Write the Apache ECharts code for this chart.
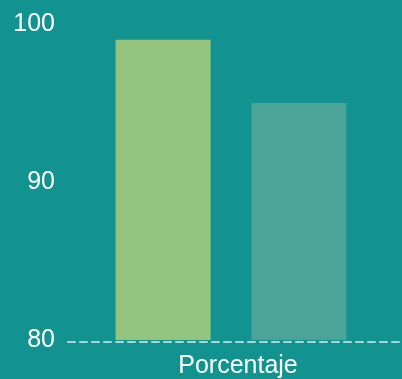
<!DOCTYPE html>
<html><head><meta charset="utf-8">
<script src="https://cdn.jsdelivr.net/npm/echarts@6/dist/echarts.min.js"></script>
<style>html,body{margin:0;padding:0;background:#12938f;}#c{width:402px;height:379px;}</style>
</head><body><div id="c"></div>
<script>
const categories = ['Porcentaje'];
const seriesA = [99];
const seriesB = [95];
const yTicks = [80, 90, 100];

const font = 'Liberation Sans, Arial';
const chart = echarts.init(document.getElementById('c'));
chart.setOption({
  backgroundColor: '#12938f',
  animation: false,
  grid: [
    {left: 68, right: 8, top: 24, bottom: 37},
    {left: 68, right: 0, top: 24, bottom: 37}
  ],
  xAxis: [{
    type: 'category', data: categories, gridIndex: 0,
    axisLine: {show: false},
    axisTick: {show: false},
    axisLabel: {color: '#ffffff', fontSize: 25, fontFamily: font, margin: 14, padding: [0, 0, 0, 14]}
  }, {
    type: 'category', data: categories, gridIndex: 1,
    axisLine: {show: true, lineStyle: {color: '#a9d8d4', type: [7, 5], width: 2}},
    axisTick: {show: false}, axisLabel: {show: false}
  }],
  yAxis: [{
    type: 'value', min: yTicks[0], max: yTicks[yTicks.length - 1], interval: 10, gridIndex: 0,
    splitLine: {show: false},
    axisLine: {show: false}, axisTick: {show: false},
    axisLabel: {color: '#ffffff', fontSize: 25, fontFamily: font, margin: 13}
  }, {
    type: 'value', min: yTicks[0], max: yTicks[yTicks.length - 1], interval: 10, gridIndex: 1,
    show: false
  }],
  series: [
    {type: 'bar', data: seriesA, barWidth: 95, barGap: '43%', itemStyle: {color: '#94c47d'}, z: 3},
    {type: 'bar', data: seriesB, barWidth: 95, itemStyle: {color: '#4ca398'}, z: 3}
  ]
});
</script></body></html>
